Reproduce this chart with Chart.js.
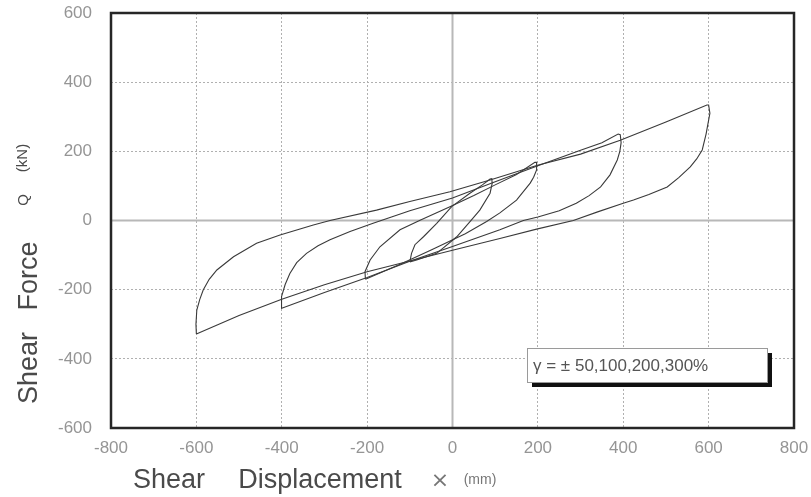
<!DOCTYPE html>
<html>
<head>
<meta charset="utf-8">
<script src="https://cdn.jsdelivr.net/npm/chart.js@4.4.1/dist/chart.umd.min.js"></script>
<style>
  html,body{margin:0;padding:0;background:#fff;}
  #wrap{width:811px;height:497px;}
</style>
</head>
<body>
<div id="wrap"><canvas id="hyst" width="811" height="497"></canvas></div>
<script>
// axis ranges (mm / kN)
const xTicks = [-800,-600,-400,-200,0,200,400,600,800];
const yTicks = [-600,-400,-200,0,200,400,600];

// gamma = 50% loop (+-100 mm)
const g50X = [-100,-96,-88,-68,-37,-2,40,70,88, 92,93,88,64,41,10,-37,-84,-100];
const g50Y = [-120,-95,-70,-47,-8,40,78,103,120, 121,108,79,30,-3,-47,-95,-114,-120];

// gamma = 100% loop (+-200 mm)
const g100X = [-204,-205,-193,-170,-123,-76,-6,50,100,150,193, 197,197,190,182,150,111,80,30,-50,-120,-170,-204];
const g100Y = [-170,-148,-114,-76,-27,1,40,72,103,133,168, 168,146,125,108,59,22,-3,-38,-85,-125,-152,-170];

// gamma = 200% loop (+-400 mm)
const g200X = [-400,-401,-400,-392,-381,-365,-342,-315,-287,-240,-186,-100,0,100,200,300,350,388, 393,395,392,386,369,347,320,290,250,200,166,111,0,-100,-200,-300,-400];
const g200Y = [-254,-235,-220,-185,-153,-122,-95,-73,-56,-32,-8,28,65,112,158,203,225,250, 248,225,200,175,132,97,72,50,28,10,0,-27,-75,-118,-165,-208,-254];

// gamma = 300% loop (+-600 mm)
const g300X = [-600,-601,-599,-592,-584,-570,-552,-513,-459,-404,-326,-287,-178,-100,-6,88,199,300,393,500,596, 600,603,600,594,585,572,557,530,503,460,424,400,340,283,197,111,0,-100,-200,-300,-400,-500,-600];
const g300Y = [-328,-300,-259,-228,-201,-170,-143,-105,-66,-42,-13,0,30,55,83,117,160,192,232,285,334, 334,310,290,250,204,178,155,124,97,75,59,50,25,0,-25,-52,-86,-117,-148,-186,-228,-275,-328];

const legendText = '\u03b3 = \u00b1 50,100,200,300%';

function pts(xs, ys){ return xs.map((v,i)=>({x:v, y:ys[i]})); }

const loops = [[g50X,g50Y],[g100X,g100Y],[g200X,g200Y],[g300X,g300Y]];

Chart.defaults.font.family = '"Liberation Sans", Arial, sans-serif';

// zero lines, plot frame, titles and the amplitude note
const decor = {
  id: 'decor',
  beforeDatasetsDraw(chart){
    const {ctx, chartArea:a, scales:{x, y}} = chart;
    const x0 = x.getPixelForValue(0), y0 = y.getPixelForValue(0);
    ctx.save();
    ctx.strokeStyle = '#b8b8b8';
    ctx.lineWidth = 2;
    ctx.beginPath();
    ctx.moveTo(x0, a.top); ctx.lineTo(x0, a.bottom);
    ctx.moveTo(a.left, y0); ctx.lineTo(a.right, y0);
    ctx.stroke();
    ctx.restore();
  },
  afterDraw(chart){
    const {ctx, chartArea:a} = chart;
    ctx.save();
    // frame
    ctx.strokeStyle = '#262626';
    ctx.lineWidth = 2.5;
    ctx.strokeRect(a.left, a.top, a.right - a.left, a.bottom - a.top);

    // note box with drop shadow
    const bx = 527, by = 348, bw = 240, bh = 34;
    ctx.fillStyle = '#111';
    ctx.fillRect(bx + 5, by + 5, bw, bh);
    ctx.fillStyle = '#fff';
    ctx.fillRect(bx, by, bw, bh);
    ctx.strokeStyle = '#9a9a9a';
    ctx.lineWidth = 1;
    ctx.strokeRect(bx + 0.5, by + 0.5, bw, bh);
    ctx.fillStyle = '#555';
    ctx.font = '17px "Liberation Sans", Arial, sans-serif';
    ctx.textAlign = 'left';
    ctx.textBaseline = 'alphabetic';
    ctx.fillText(legendText, bx + 6, by + 23, 184);

    // x title
    ctx.fillStyle = '#4a4a4a';
    ctx.textAlign = 'center';
    ctx.font = '27px "Liberation Sans", Arial, sans-serif';
    ctx.fillText('Shear', 169, 488);
    ctx.fillText('Displacement', 320, 488);
    ctx.font = '22px "DejaVu Sans", sans-serif';
    ctx.fillStyle = '#777';
    ctx.fillText('\u00d7', 440, 487);
    ctx.font = '14px "Liberation Sans", Arial, sans-serif';
    ctx.fillText('(mm)', 480, 484);

    // y title
    ctx.translate(37, 0);
    ctx.rotate(-Math.PI / 2);
    ctx.fillStyle = '#4a4a4a';
    ctx.font = '27px "Liberation Sans", Arial, sans-serif';
    ctx.fillText('Shear', -368, 0);
    ctx.fillText('Force', -276, 0);
    ctx.font = '15px "Liberation Sans", Arial, sans-serif';
    ctx.fillText('Q', -200, -9);
    ctx.fillText('(kN)', -158, -10);
    ctx.restore();
  }
};

new Chart(document.getElementById('hyst'), {
  type: 'scatter',
  data: {
    datasets: loops.map(([xs, ys]) => ({
      data: pts(xs, ys),
      showLine: true,
      borderColor: '#3a3a3a',
      borderWidth: 1.1,
      pointRadius: 0,
      tension: 0
    }))
  },
  options: {
    responsive: false,
    animation: false,
    layout: { padding: { left: 0, top: 13, right: 17, bottom: 0 } },
    plugins: { legend: { display: false }, tooltip: { enabled: false } },
    scales: {
      x: {
        type: 'linear', min: xTicks[0], max: xTicks[xTicks.length-1],
        afterBuildTicks: s => { s.ticks = xTicks.map(v => ({value: v})); },
        afterFit: s => { s.height = 69; s.paddingLeft = 0; s.paddingRight = 0; },
        grid: { color: c => c.tick && c.tick.value === 0 ? 'rgba(0,0,0,0)' : '#b0b0b0', lineWidth: 1, drawTicks: false },
        border: { display: false, dash: [2, 2] },
        ticks: { color: '#959595', font: { size: 17 }, padding: 10 }
      },
      y: {
        type: 'linear', min: yTicks[0], max: yTicks[yTicks.length-1],
        afterBuildTicks: s => { s.ticks = yTicks.map(v => ({value: v})); },
        afterFit: s => { s.width = 111; s.paddingTop = 0; s.paddingBottom = 0; },
        grid: { color: c => c.tick && c.tick.value === 0 ? 'rgba(0,0,0,0)' : '#b0b0b0', lineWidth: 1, drawTicks: false },
        border: { display: false, dash: [2, 2] },
        ticks: { color: '#959595', font: { size: 17 }, padding: 19 }
      }
    }
  },
  plugins: [decor]
});
</script>
</body>
</html>
